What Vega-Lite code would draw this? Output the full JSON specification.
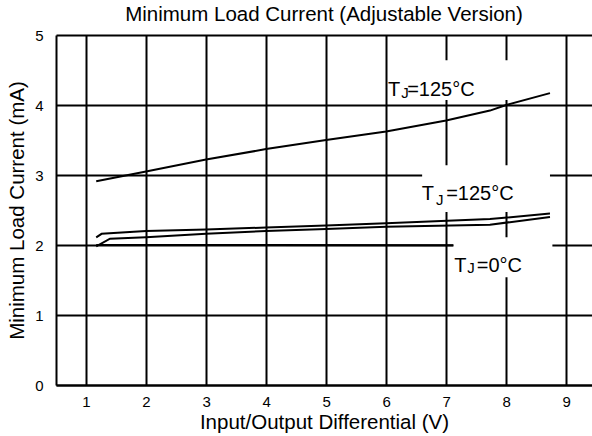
{
  "$schema": "https://vega.github.io/schema/vega-lite/v6.json",
  "width": 536,
  "height": 350,
  "autosize": "none",
  "padding": {"left": 56, "top": 35, "right": 0, "bottom": 51},
  "config": {
    "font": "Liberation Sans",
    "view": {"stroke": null},
    "axis": {
      "grid": true, "gridColor": "#000", "gridWidth": 2, "gridOpacity": 1,
      "ticks": false, "domainColor": "#000", "domainWidth": 2,
      "labelColor": "#000", "titleColor": "#000", "labelFontSize": 15,
      "titleFontSize": 20.5, "titleFontWeight": "normal", "format": "d"
    }
  },
  "title": {"text": "Minimum Load Current (Adjustable Version)", "fontSize": 20.5, "fontWeight": "normal", "color": "#000", "anchor": "middle", "offset": 3},
  "datasets": {
    "curves": [
      {"curve": "125°C upper", "vin": 1.17, "current": 2.91},
      {"curve": "125°C upper", "vin": 2, "current": 3.05},
      {"curve": "125°C upper", "vin": 3, "current": 3.22},
      {"curve": "125°C upper", "vin": 4, "current": 3.37},
      {"curve": "125°C upper", "vin": 5, "current": 3.5},
      {"curve": "125°C upper", "vin": 6, "current": 3.62},
      {"curve": "125°C upper", "vin": 7, "current": 3.78},
      {"curve": "125°C upper", "vin": 7.73, "current": 3.92},
      {"curve": "125°C upper", "vin": 8, "current": 4.0},
      {"curve": "125°C upper", "vin": 8.73, "current": 4.17},
      {"curve": "125°C middle", "vin": 1.17, "current": 2.11},
      {"curve": "125°C middle", "vin": 1.26, "current": 2.16},
      {"curve": "125°C middle", "vin": 2, "current": 2.2},
      {"curve": "125°C middle", "vin": 3, "current": 2.22},
      {"curve": "125°C middle", "vin": 4, "current": 2.25},
      {"curve": "125°C middle", "vin": 5, "current": 2.28},
      {"curve": "125°C middle", "vin": 6, "current": 2.31},
      {"curve": "125°C middle", "vin": 7.73, "current": 2.37},
      {"curve": "125°C middle", "vin": 8.73, "current": 2.45},
      {"curve": "lower", "vin": 1.17, "current": 1.98},
      {"curve": "lower", "vin": 1.4, "current": 2.09},
      {"curve": "lower", "vin": 2, "current": 2.11},
      {"curve": "lower", "vin": 3, "current": 2.16},
      {"curve": "lower", "vin": 4, "current": 2.2},
      {"curve": "lower", "vin": 5, "current": 2.23},
      {"curve": "lower", "vin": 6, "current": 2.26},
      {"curve": "lower", "vin": 7.73, "current": 2.29},
      {"curve": "lower", "vin": 8.73, "current": 2.4},
      {"curve": "0°C", "vin": 1.17, "current": 2.0},
      {"curve": "0°C", "vin": 4, "current": 2.0},
      {"curve": "0°C", "vin": 7.12, "current": 1.995}
    ],
    "boxes": [
      {"x1": 6.05, "x2": 8.6, "y1": 4.07, "y2": 4.64},
      {"x1": 6.6, "x2": 8.73, "y1": 2.47, "y2": 3.14},
      {"x1": 7.12, "x2": 8.77, "y1": 1.54, "y2": 2.11}
    ],
    "labels": [
      {"part": "main", "text": "T", "x": 6.03, "y": 4.133},
      {"part": "sub", "text": "J", "x": 6.25, "y": 4.1},
      {"part": "main", "text": "=125°C", "x": 6.35, "y": 4.133},
      {"part": "main", "text": "T", "x": 6.595, "y": 2.643},
      {"part": "sub", "text": "J", "x": 6.83, "y": 2.571},
      {"part": "main", "text": "=125°C", "x": 7.0, "y": 2.643},
      {"part": "main", "text": "T", "x": 7.133, "y": 1.619},
      {"part": "sub", "text": "J", "x": 7.35, "y": 1.6},
      {"part": "main", "text": "=0°C", "x": 7.51, "y": 1.619}
    ]
  },
  "layer": [
    {
      "data": {"name": "boxes"},
      "mark": {"type": "rect", "fill": "#fff", "stroke": null},
      "encoding": {
        "x": {"field": "x1", "type": "quantitative", "scale": {"domain": [0.5, 9.43], "nice": false, "zero": false},
              "axis": {"values": [1,2,3,4,5,6,7,8,9], "title": "Input/Output Differential (V)", "labelPadding": 9, "titlePadding": 3}},
        "x2": {"field": "x2"},
        "y": {"field": "y1", "type": "quantitative", "scale": {"domain": [0, 5], "nice": false, "zero": true},
              "axis": {"values": [0,1,2,3,4,5], "title": "Minimum Load Current (mA)", "labelPadding": 13, "titlePadding": 7}},
        "y2": {"field": "y2"}
      }
    },
    {
      "data": {"name": "curves"},
      "mark": {"type": "line", "color": "#000", "strokeWidth": 2},
      "encoding": {
        "x": {"field": "vin", "type": "quantitative"},
        "y": {"field": "current", "type": "quantitative"},
        "detail": {"field": "curve"}
      }
    },
    {
      "data": {"name": "labels"},
      "transform": [{"filter": "datum.part === 'main'"}],
      "mark": {"type": "text", "align": "left", "baseline": "alphabetic", "fontSize": 20, "color": "#000"},
      "encoding": {
        "x": {"field": "x", "type": "quantitative"},
        "y": {"field": "y", "type": "quantitative"},
        "text": {"field": "text"}
      }
    },
    {
      "data": {"name": "labels"},
      "transform": [{"filter": "datum.part === 'sub'"}],
      "mark": {"type": "text", "align": "left", "baseline": "alphabetic", "fontSize": 15, "color": "#000"},
      "encoding": {
        "x": {"field": "x", "type": "quantitative"},
        "y": {"field": "y", "type": "quantitative"},
        "text": {"field": "text"}
      }
    }
  ]
}
